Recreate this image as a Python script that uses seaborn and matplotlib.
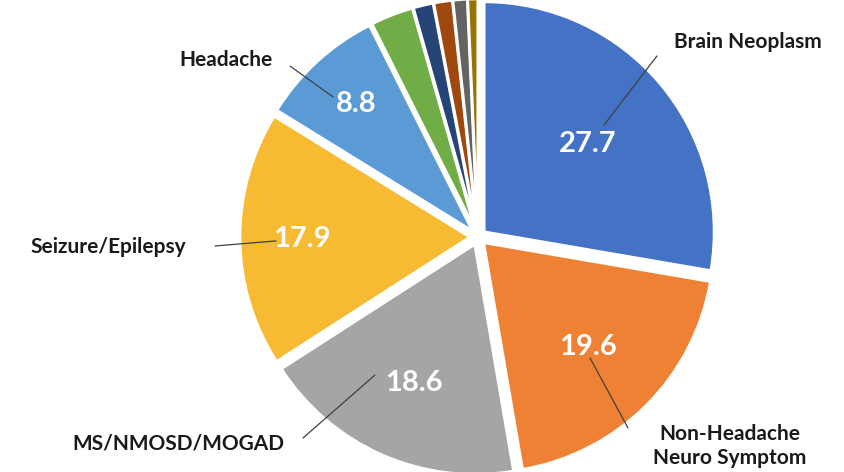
import matplotlib.pyplot as plt
import seaborn as sns
import numpy as np

# slice data, clockwise from 12 o'clock
categories = ["Brain Neoplasm", "Non-Headache\nNeuro Symptom", "MS/NMOSD/MOGAD",
              "Seizure/Epilepsy", "Headache", "Other 1", "Other 2", "Other 3",
              "Other 4", "Other 5"]
values = [27.7, 19.6, 18.6, 17.9, 8.8, 3.0, 1.4, 1.3, 1.0, 0.7]
shown_values = ["27.7", "19.6", "18.6", "17.9", "8.8", "", "", "", "", ""]
colors = ["#4472C4", "#EE8133", "#A5A5A5", "#F6BB33", "#5B9BD5",
          "#70AD47", "#264478", "#9E480E", "#636363", "#997300"]

# radial position of the value text inside each wedge
value_radius = [0.59, 0.64, 0.66, 0.73, 0.75]

# outside labels: (text position, leader start, leader end) in pie units
outer_labels = {
    "Brain Neoplasm": ((1.174, 0.848), (0.778, 0.787), (0.548, 0.487)),
    "Non-Headache\nNeuro Symptom": ((1.096, -0.909), (0.652, -0.830), (0.487, -0.526)),
    "MS/NMOSD/MOGAD": ((-1.304, -0.896), (-0.761, -0.874), (-0.448, -0.600)),
    "Seizure/Epilepsy": ((-1.609, -0.043), (-1.143, -0.039), (-0.878, -0.017)),
    "Headache": ((-1.096, 0.770), (-0.817, 0.743), (-0.630, 0.609)),
}

sns.set_theme(style="white")
plt.rcParams['font.family'] = ['Lato', 'DejaVu Sans']

fig = plt.figure(figsize=(8.44, 4.72), dpi=100)
ax = fig.add_axes([0, 0, 1, 1])

wedges, _ = ax.pie(values, colors=colors, startangle=90, counterclock=False,
                   explode=[0.035] * len(values),
                   wedgeprops={'edgecolor': 'white', 'linewidth': 2})

for w, txt, r in zip(wedges, shown_values, value_radius):
    ang = np.deg2rad((w.theta1 + w.theta2) / 2)
    cx, cy = w.center
    ax.text(cx + r * np.cos(ang), cy + r * np.sin(ang), txt, color='white',
            fontsize=21, fontweight='bold', ha='center', va='center')

for name, (tpos, lstart, lend) in outer_labels.items():
    ax.plot([lstart[0], lend[0]], [lstart[1], lend[1]], color='#404040', lw=0.9)
    ax.text(tpos[0], tpos[1], name, fontsize=15, fontweight='bold', color='#1a1a1a',
            ha='center', va='center', linespacing=1.3)

ax.set_xlim(-478 / 230, (844 - 478) / 230)
ax.set_ylim(-235 / 230, 237 / 230)
ax.axis('off')

plt.savefig('out.png', dpi=100)
